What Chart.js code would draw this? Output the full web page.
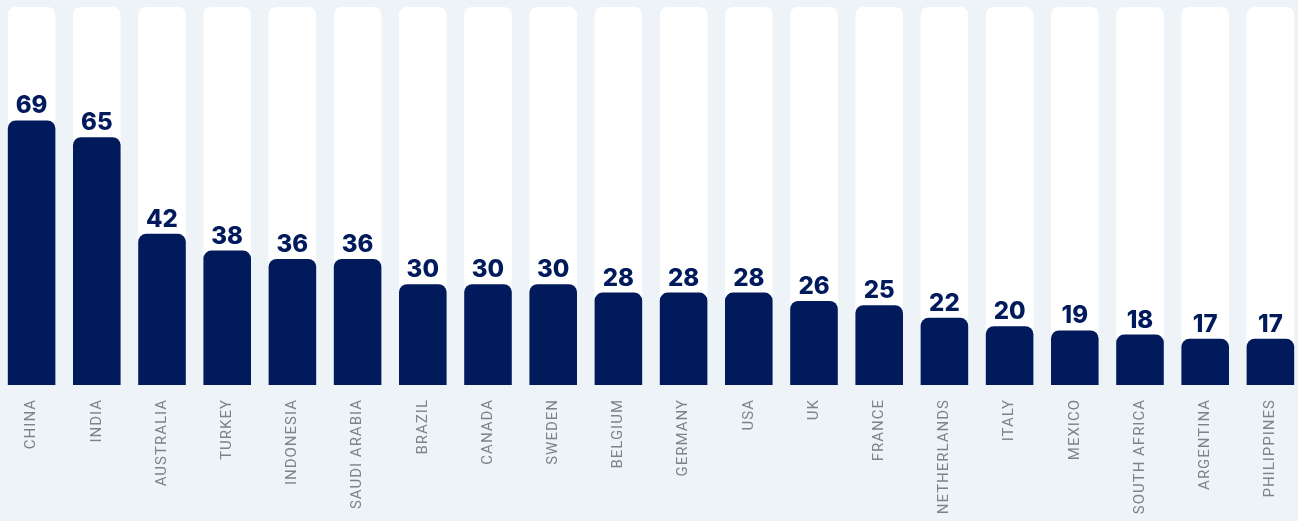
<!DOCTYPE html>
<html>
<head>
<meta charset="utf-8">
<script src="https://cdn.jsdelivr.net/npm/chart.js@4"></script>
<style>
  html, body { margin: 0; padding: 0; background: #eef3f8; overflow: hidden; }
  #wrap { position: absolute; left: -1px; top: 0; width: 1304px; height: 521px; }
</style>
</head>
<body>
<div id="wrap"><canvas id="myChart"></canvas></div>
<script>
const countries = ['CHINA', 'INDIA', 'AUSTRALIA', 'TURKEY', 'INDONESIA', 'SAUDI ARABIA', 'BRAZIL', 'CANADA', 'SWEDEN', 'BELGIUM',
    'GERMANY', 'USA', 'UK', 'FRANCE', 'NETHERLANDS', 'ITALY', 'MEXICO', 'SOUTH AFRICA', 'ARGENTINA', 'PHILIPPINES']
const scores = [69, 65, 42, 38, 36, 36, 30, 30, 30, 28, 28, 28, 26, 25, 22, 20, 19, 18, 17, 17]

const yMin = 6
const yMax = 96
const navy = '#001a5c'

// white track behind every bar, always full height
const track = countries.map(() => yMax)

// letter spaced tick labels
const spacing = {
    id: 'spacing',
    beforeDraw(chart) {
        chart.ctx.letterSpacing = '1px'
    }
}

const valueLabels = {
    id: 'valueLabels',
    afterDatasetsDraw(chart) {
        const ctx = chart.ctx
        const meta = chart.getDatasetMeta(0)
        ctx.save()
        ctx.letterSpacing = '0px'
        ctx.fillStyle = navy
        ctx.font = '800 24px Inter'
        ctx.textAlign = 'center'
        ctx.textBaseline = 'alphabetic'
        meta.data.forEach((bar, i) => {
            ctx.fillText(scores[i], bar.x, bar.y - 7)
        })
        ctx.restore()
    }
}

const ctx = document.getElementById('myChart')

new Chart(ctx, {
    type: 'bar',
    data: {
        labels: countries,
        datasets: [{
            data: scores,
            backgroundColor: navy,
            borderRadius: 8,
            borderSkipped: false,
            grouped: false,
            order: 0
        }, {
            data: track,
            backgroundColor: '#ffffff',
            borderRadius: 8,
            borderSkipped: false,
            grouped: false,
            order: 1
        }]
    },
    options: {
        responsive: true,
        maintainAspectRatio: false,
        animation: false,
        layout: { padding: { top: 7, left: 0, right: 0, bottom: 0 } },
        datasets: {
            bar: { categoryPercentage: 1, barPercentage: 0.73 }
        },
        plugins: {
            legend: { display: false },
            tooltip: { enabled: false }
        },
        scales: {
            x: {
                grid: { display: false, drawTicks: false },
                border: { display: false },
                ticks: {
                    autoSkip: false,
                    minRotation: 90,
                    maxRotation: 90,
                    padding: 14,
                    color: '#7d828b',
                    font: { family: 'Roboto', size: 15 }
                },
                afterFit(scale) {
                    scale.height = 136
                }
            },
            y: {
                display: false,
                min: yMin,
                max: yMax
            }
        }
    },
    plugins: [spacing, valueLabels]
})
</script>
</body>
</html>
